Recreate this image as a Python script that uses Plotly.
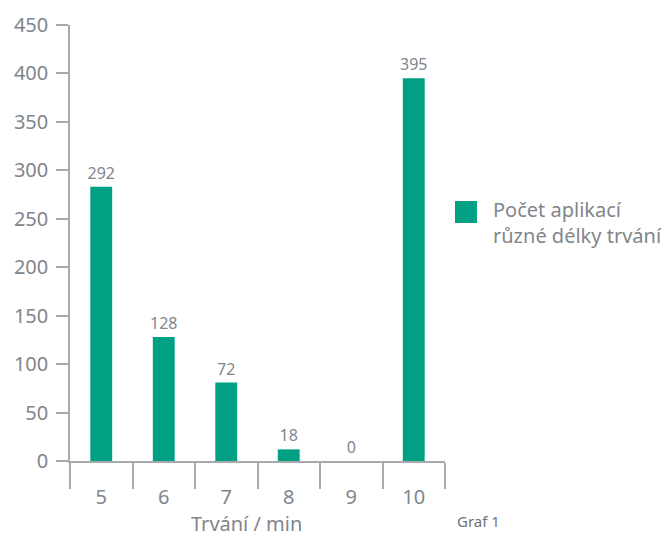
import plotly.graph_objects as go

categories = ["5", "6", "7", "8", "9", "10"]
bar_heights = [283, 128, 81, 12, 0, 395]
bar_labels = ["292", "128", "72", "18", "0", "395"]
series_name = "Počet aplikací<br>různé délky trvání"
x_title = "Trvání / min"
y_ticks = [0, 50, 100, 150, 200, 250, 300, 350, 400, 450]

BAR = "#00a084"
AXIS = "#a7a9ac"
TXT = "#80868b"
FONT = "Noto Sans"

fig = go.Figure()
fig.add_trace(go.Bar(
    x=categories, y=bar_heights, name=series_name,
    marker=dict(color=BAR, line=dict(width=0)),
    width=0.35,
    text=bar_labels, textposition="outside", cliponaxis=False,
    constraintext="none",
    textfont=dict(family=FONT, size=16, color=TXT),
    showlegend=False, hoverinfo="skip",
))

fig.update_layout(
    width=666, height=539,
    margin=dict(l=70, r=221, t=25, b=78),
    plot_bgcolor="white", paper_bgcolor="white",
    font=dict(family=FONT, color=TXT),
    xaxis=dict(
        type="category", tickson="boundaries", ticks="outside", ticklen=26,
        tickcolor=AXIS, tickwidth=1.5, showline=True, linecolor=AXIS, linewidth=1.5,
        showgrid=False, tickfont=dict(size=20, color=TXT), ticklabelstandoff=17,
        automargin=False,
    ),
    yaxis=dict(
        range=[0, 450], tickvals=y_ticks, ticks="outside", ticklen=12,
        tickcolor=AXIS, tickwidth=1.5, showline=True, linecolor=AXIS, linewidth=1.5,
        showgrid=False, zeroline=False, tickfont=dict(size=20, color=TXT),
        ticklabelstandoff=4, automargin=False,
    ),
)

# x-axis title
fig.add_annotation(xref="paper", yref="paper", x=(246 - 70) / 375, y=(461 - 523) / 436,
                   text=x_title, showarrow=False, xanchor="center", yanchor="middle",
                   borderpad=0, font=dict(family=FONT, size=20, color=TXT))

# legend drawn manually (large swatch)
fig.add_shape(type="rect", xref="paper", yref="paper",
              x0=(455 - 70) / 375, x1=(477 - 70) / 375,
              y0=(461 - 223) / 436, y1=(461 - 201) / 436,
              fillcolor=BAR, line=dict(width=0))
fig.add_annotation(xref="paper", yref="paper", x=(491 - 70) / 375, y=(461 - 222) / 436,
                   text=series_name, showarrow=False, xanchor="left", yanchor="middle",
                   align="left", font=dict(family=FONT, size=20, color=TXT))
fig.add_annotation(xref="paper", yref="paper", x=(455 - 70) / 375, y=(461 - 521) / 436,
                   text="Graf 1", showarrow=False, xanchor="left", yanchor="middle",
                   font=dict(family=FONT, size=15, color="#6d7377"))

fig.write_html("out.html", config={"displayModeBar": False},
               post_script="document.body.style.margin='0';document.body.style.overflow='hidden';")
